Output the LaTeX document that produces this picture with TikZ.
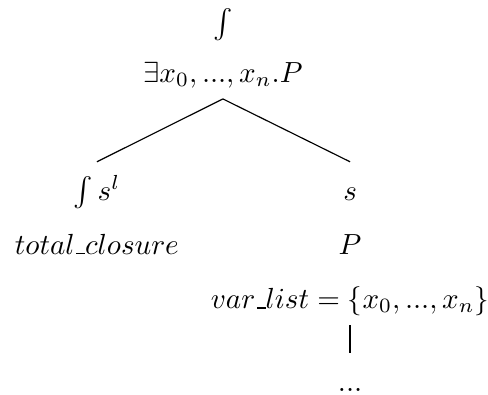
\documentclass[tikz,border=0pt]{standalone}
\usepackage{amsmath}
\usetikzlibrary{positioning}
\renewcommand{\arraystretch}{1.55}
\newcommand{\tlines}[1]{\begin{tabular}{@{}c@{}}#1\end{tabular}}
\newcommand{\usc}{\leavevmode\kern.06em\vbox{\hrule width.3em}}
\tikzset{
	tnode/.style={inner sep=0pt},
	tedge/.style={thin},
}
\begin{document}
\begin{tikzpicture}
	\useasboundingbox (0,0) rectangle (167.7pt,-135.7pt);
	\node[tnode, anchor=south] (r) at (76.6pt,-34pt) {\tlines{$\int$\\[-1.4pt] $\exists x_0, ..., x_n.P$}};
	\node[tnode, below=21.6pt of r, xshift=-43.3pt] (cl) {\tlines{$\int s^l$\\ $total\usc closure$}};
	\node[tnode, below=21.6pt of r, xshift=43.7pt] (cs) {\tlines{$s$\\ $P$\\ $var\usc list = \{x_0, ..., x_n\}$}};
	\node[tnode, below=9.6pt of cs] (dots) {\tlines{$...$}};
	\draw[tedge] (r.south) -- (cl.north);
	\draw[tedge] (r.south) -- (cs.north);
	\draw[tedge] (cs.south) -- (dots.north);
\end{tikzpicture}
\end{document}
